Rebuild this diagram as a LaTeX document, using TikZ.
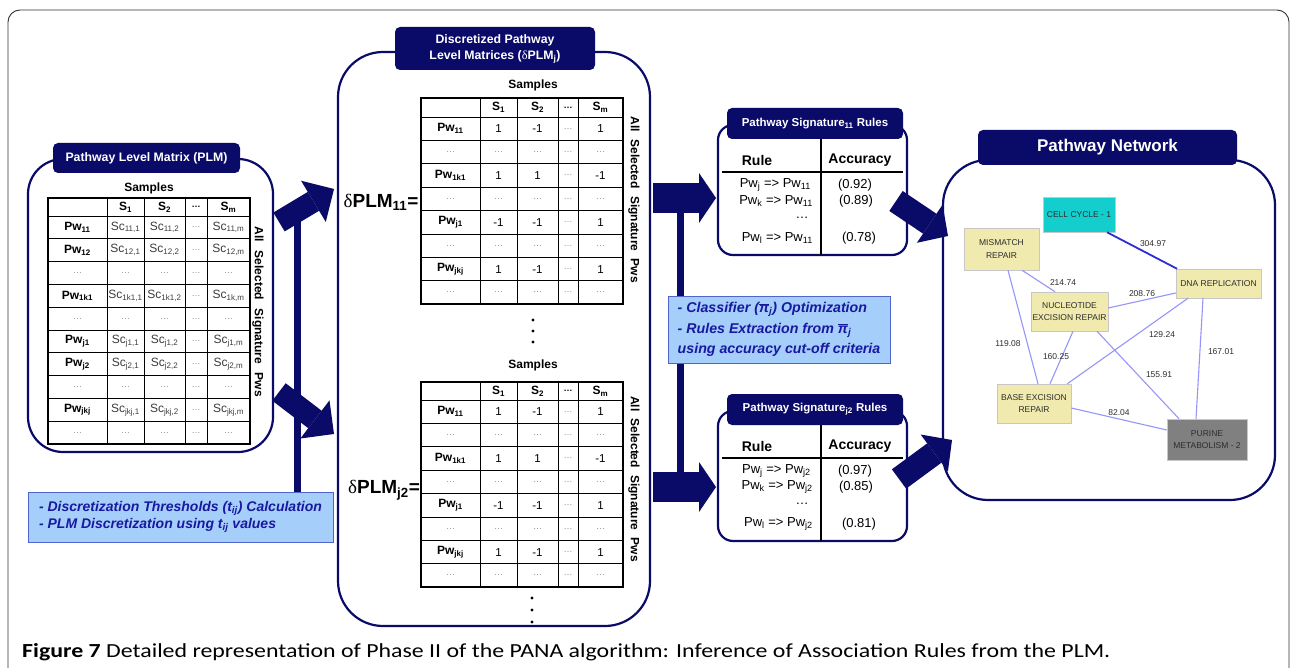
\documentclass[tikz,border=0pt]{standalone}
\usepackage{fontspec}
\setmainfont{Liberation Sans}
\newfontfamily\deltafont{Liberation Serif}
\newfontfamily\capfont{Carlito}
\usetikzlibrary{arrows.meta}
\definecolor{navy}{RGB}{10,10,105}
\definecolor{lightbox}{RGB}{165,206,250}
\definecolor{boxedge}{RGB}{80,100,205}
\definecolor{boxtext}{RGB}{25,25,160}
\definecolor{celltxt}{RGB}{60,60,60}
\definecolor{dotgray}{RGB}{140,140,140}
\definecolor{beige}{RGB}{240,234,174}
\definecolor{cyanbox}{RGB}{20,205,205}
\definecolor{graybox}{RGB}{128,128,128}
\definecolor{edgeblue}{RGB}{150,150,250}
\definecolor{strongblue}{RGB}{45,45,215}
\definecolor{netlabel}{RGB}{45,45,45}
\definecolor{framegray}{RGB}{50,50,50}
\newcommand\fs[1]{\fontsize{#1}{#1}\selectfont}
\newcommand\sbs[1]{\textsubscript{#1}}
\newcommand\dg{{\color{dotgray}\fs{9}\mdseries\ldots}}
\newcommand\pibar{$\overline{\mbox{π}}$}

\tikzset{
  panel/.style={draw=navy, line width=2.2pt, inner sep=0pt},
  tabbox/.style={fill=navy, rounded corners=5pt, text=white, inner sep=0pt, align=center},
  gridl/.style={line width=0.8pt, black},
  tframe/.style={line width=2.4pt, black},
  hdr/.style={font=\bfseries\fs{12}, inner sep=0pt},
  lab/.style={font=\bfseries\fs{12}, inner sep=0pt},
  cell/.style={font=\fs{12}, text=celltxt, inner sep=0pt},
  num/.style={font=\fs{11.5}, inner sep=0pt},
  samp/.style={font=\bfseries\fs{12}, inner sep=0pt},
  vtext/.style={font=\bfseries\fs{12}, inner sep=0pt, rotate=-90},
  dlab/.style={font=\bfseries\fs{19}, inner sep=0pt},
  bluebox/.style={fill=lightbox, draw=boxedge, line width=0.9pt, text=boxtext, align=left, inner sep=0pt},
  bigarrow/.style n args={3}{draw=navy, line width=#1, -{Triangle[length=#2, width=#3, line width=0pt]}},
  navybar/.style={draw=navy, line width=7pt},
  rtxt/.style={font=\fs{13}, inner sep=0pt},
  rhdr/.style={font=\bfseries\fs{14}, inner sep=0pt},
  netnode/.style={draw=black!22, line width=0.5pt, font=\fontsize{8.5}{12.5}\selectfont, text=netlabel, align=center, inner sep=0pt},
  nedge/.style={draw=edgeblue, line width=1.1pt},
  elab/.style={font=\fs{8.5}, text=netlabel, inner sep=0pt},
}

\newcommand\plmrow[5]{%
  \pgfmathsetmacro\yy{216+22.8*(#1-0.5)}%
  \node[lab]  (plm#1l) at (77.5,\yy) {#2};
  \node[cell] (plm#1a) at (125.5,\yy) {#3};
  \node[cell] (plm#1b) at (164.5,\yy) {#4};
  \node[cell] (plm#1c) at (196,\yy) {\dg};
  \node[cell] (plm#1d) at (228.5,\yy) {#5};}

\newcommand\dmrow[7]{%
  \pgfmathsetmacro\yy{#2+23.4*(#3-0.5)}%
  \node[lab] (#1#3l) at (450.5,\yy) {#4};
  \node[num] (#1#3a) at (498.5,\yy) {#5};
  \node[num] (#1#3b) at (537.5,\yy) {#6};
  \node[num] (#1#3c) at (568,\yy) {\dg};
  \node[num] (#1#3d) at (600.5,\yy) {#7};}

\newcommand\dmatrix[3]{%
  \foreach \x in {480,517,558,578} \draw[gridl] (\x,#2) -- (\x,{#3+187.2});
  \foreach \i in {0,...,7} \draw[gridl] (421,{#3+23.4*\i}) -- (623,{#3+23.4*\i});
  \draw[tframe] (421,#2) rectangle (623,{#3+187.2});
  \pgfmathsetmacro\yh{(#2+#3)/2}%
  \node[hdr] (#1h1) at (498.5,\yh) {S\sbs{1}};
  \node[hdr] (#1h2) at (537.5,\yh) {S\sbs{2}};
  \node[hdr] (#1h3) at (568,\yh) {\fs{9}\ldots};
  \node[hdr] (#1hm) at (600.5,\yh) {S\sbs{m}};
  \dmrow{#1}{#3}{1}{Pw\sbs{11}}{1}{-1}{1}
  \dmrow{#1}{#3}{2}{\dg}{\dg}{\dg}{\dg}
  \dmrow{#1}{#3}{3}{Pw\sbs{1k1}}{1}{1}{-1}
  \dmrow{#1}{#3}{4}{\dg}{\dg}{\dg}{\dg}
  \dmrow{#1}{#3}{5}{Pw\sbs{j1}}{-1}{-1}{1}
  \dmrow{#1}{#3}{6}{\dg}{\dg}{\dg}{\dg}
  \dmrow{#1}{#3}{7}{Pw\sbs{jkj}}{1}{-1}{1}
  \dmrow{#1}{#3}{8}{\dg}{\dg}{\dg}{\dg}}

\newcommand\rulebox[6]{%
  \node[panel, rounded corners=15pt, minimum width=189pt, minimum height=130pt] (#1panel) at (812.5,{190+#2}) {};
  \draw[line width=1.2pt] (821,{139+#2}) -- (821,{255+#2});
  \draw[line width=1.2pt] (722,{172+#2}) -- (903,{172+#2});
  \node[tabbox, font=\bfseries\fs{11.5}, minimum width=176pt, minimum height=31pt] (#1tab) at (815,{123.5+#2}) {Pathway Signature\sbs{#3} Rules};
  \node[rhdr] (#1hr) at (757,{160+#2}) {Rule};
  \node[rhdr] (#1ha) at (860,{160+#2}) {Accuracy};
  \node[rtxt, anchor=east] (#1r1) at (811,{185+#2}) {Pw\sbs{j} => Pw\sbs{#3}};
  \node[rtxt, anchor=east] (#1r2) at (813,{201+#2}) {Pw\sbs{k} => Pw\sbs{#3}};
  \node[rtxt] (#1rd) at (802,{218+#2}) {\ldots};
  \node[rtxt, anchor=east] (#1r3) at (813,{238+#2}) {Pw\sbs{l} => Pw\sbs{#3}};
  \node[rtxt] (#1a1) at (855,{185+#2}) {(#4)};
  \node[rtxt] (#1a2) at (856,{201+#2}) {(#5)};
  \node[rtxt] (#1a3) at (859,{238+#2}) {(#6)};}

\begin{document}
\begin{tikzpicture}[x=1pt,y=-1pt]
\useasboundingbox (0,0) rectangle (1292,668);
\fill[white] (0,0) rectangle (1292,668);
% outer frame
\draw[framegray, line width=0.9pt, rounded corners=12pt] (8,10) rectangle (1289,720);

% ---------- PLM panel ----------
\node[panel, rounded corners=35pt, minimum width=245pt, minimum height=293pt] (plmpanel) at (150.5,305.5) {};
\node[tabbox, font=\bfseries\fs{12.3}, minimum width=187pt, minimum height=30pt] (plmtab) at (146.5,158) {Pathway Level Matrix (PLM)};
\node[samp] (plmsamp) at (149,188) {Samples};
\foreach \x in {107,144,185,207} \draw[gridl] (\x,198) -- (\x,444);
\draw[gridl] (48,216) -- (250,216);
\foreach \i in {1,...,9} \draw[gridl] (48,{216+22.8*\i}) -- (250,{216+22.8*\i});
\draw[tframe] (48,198) rectangle (250,444);
\node[hdr] (plmh1) at (125.5,207) {S\sbs{1}};
\node[hdr] (plmh2) at (164.5,207) {S\sbs{2}};
\node[hdr] (plmh3) at (196,207) {\fs{9}\ldots};
\node[hdr] (plmhm) at (228.5,207) {S\sbs{m}};
\plmrow{1}{Pw\sbs{11}}{Sc\sbs{11,1}}{Sc\sbs{11,2}}{Sc\sbs{11,m}}
\plmrow{2}{Pw\sbs{12}}{Sc\sbs{12,1}}{Sc\sbs{12,2}}{Sc\sbs{12,m}}
\plmrow{3}{\dg}{\dg}{\dg}{\dg}
\plmrow{4}{Pw\sbs{1k1}}{Sc\sbs{1k1,1}}{Sc\sbs{1k1,2}}{Sc\sbs{1k,m}}
\plmrow{5}{\dg}{\dg}{\dg}{\dg}
\plmrow{6}{Pw\sbs{j1}}{Sc\sbs{j1,1}}{Sc\sbs{j1,2}}{Sc\sbs{j1,m}}
\plmrow{7}{Pw\sbs{j2}}{Sc\sbs{j2,1}}{Sc\sbs{j2,2}}{Sc\sbs{j2,m}}
\plmrow{8}{\dg}{\dg}{\dg}{\dg}
\plmrow{9}{Pw\sbs{jkj}}{Sc\sbs{jkj,1}}{Sc\sbs{jkj,2}}{Sc\sbs{jkj,m}}
\plmrow{10}{\dg}{\dg}{\dg}{\dg}
\node[vtext] (plmv) at (258,312) {\makebox[170pt][s]{All Selected Signature Pws}};

% ---------- middle panel ----------
\node[panel, rounded corners=45pt, minimum width=312pt, minimum height=574pt] (midpanel) at (494,339) {};
\node[tabbox, font=\bfseries\fontsize{12.3}{16}\selectfont, minimum width=200pt, minimum height=43pt] (midtab) at (495,48.5) {Discretized Pathway\\Level Matrices ({\deltafont\mdseries δ}PLM\sbs{j})};
\node[samp] (dmAsamp) at (533,85) {Samples};
\dmatrix{dmA}{98}{117}
\node[vtext] (dmAv) at (634,200) {\makebox[166pt][s]{All Selected Signature Pws}};
\node[dlab] (dlA) at (381,202) {{\deltafont\mdseries δ}PLM\sbs{11}=};
\fill (533,320) circle (1.6) (533,331) circle (1.6) (533,342) circle (1.6);
\node[samp] (dmBsamp) at (533,365) {Samples};
\dmatrix{dmB}{382}{400}
\node[vtext] (dmBv) at (634,479) {\makebox[166pt][s]{All Selected Signature Pws}};
\node[dlab] (dlB) at (384,490) {{\deltafont\mdseries δ}PLM\sbs{j2}=};
\fill (532,598) circle (1.6) (532,610) circle (1.6) (532,622) circle (1.6);

% ---------- left connector ----------
\coordinate (lbtop) at (297,215);
\coordinate (lbbot) at (297,495);
\draw[navybar] (lbtop) -- (lbbot);
\coordinate (la1t) at (279,222); \coordinate (la1h) at (334,189);
\coordinate (la2t) at (279,392); \coordinate (la2h) at (334,434);
\draw[bigarrow={22pt}{24pt}{48pt}] (la1t) -- (la1h);
\draw[bigarrow={22pt}{24pt}{48pt}] (la2t) -- (la2h);
\node[bluebox, font=\bfseries\itshape\fontsize{14}{17}\selectfont, minimum width=305pt, minimum height=50pt] (bb1) at (180.5,517)
  {- Discretization Thresholds (t\sbs{ij}) Calculation\\- PLM Discretization using t\sbs{ij} values};

% ---------- rules boxes ----------
\rulebox{ra}{0}{11}{0.92}{0.89}{0.78}
\rulebox{rb}{286}{j2}{0.97}{0.85}{0.81}

% ---------- middle connector ----------
\coordinate (mbtop) at (680,198);
\coordinate (mbbot) at (680,487);
\draw[navybar] (mbtop) -- (mbbot);
\coordinate (ma1t) at (653,198); \coordinate (ma1h) at (716,198);
\coordinate (ma2t) at (653,487); \coordinate (ma2h) at (716,487);
\draw[bigarrow={30pt}{17pt}{50pt}] (ma1t) -- (ma1h);
\draw[bigarrow={30pt}{17pt}{50pt}] (ma2t) -- (ma2h);
\node[bluebox, font=\bfseries\itshape\fontsize{14.2}{20.5}\selectfont, minimum width=222pt, minimum height=67pt] (bb2) at (779,329.5)
  {- Classifier (\pibar\sbs{j}) Optimization\\- Rules Extraction from \pibar\sbs{j}\\using accuracy cut-off criteria};

% ---------- network ----------
\node[panel, rounded corners=45pt, minimum width=332pt, minimum height=340pt] (netpanel) at (1109,330) {};
\node[tabbox, font=\bfseries\fs{17}, minimum width=259pt, minimum height=35pt] (nettab) at (1107.5,147.5) {Pathway Network};

\coordinate (na1t) at (896,201); \coordinate (na1h) at (948,236);
\coordinate (na2t) at (899,479); \coordinate (na2h) at (952,440);
\draw[bigarrow={24pt}{22pt}{46pt}] (na1t) -- (na1h);
\draw[bigarrow={24pt}{22pt}{46pt}] (na2t) -- (na2h);

\node[netnode, fill=cyanbox, minimum width=72pt, minimum height=35pt] (cc) at (1079,214.5) {CELL CYCLE - 1};
\node[netnode, fill=beige, minimum width=75pt, minimum height=42pt] (mm) at (1001.5,249) {MISMATCH\\REPAIR};
\node[netnode, fill=beige, minimum width=85pt, minimum height=29pt] (dna) at (1218.5,283.5) {DNA REPLICATION};
\node[netnode, fill=beige, minimum width=77pt, minimum height=39pt] (ner) at (1069.5,311.5) {NUCLEOTIDE\\EXCISION REPAIR};
\node[netnode, fill=beige, minimum width=74pt, minimum height=39pt] (ber) at (1034,403.5) {BASE EXCISION\\REPAIR};
\node[netnode, fill=graybox, minimum width=80pt, minimum height=41pt] (pur) at (1207,439.5) {PURINE\\METABOLISM - 2};

\draw[nedge, draw=strongblue, line width=1.8pt] ([xshift=28pt]cc.south) -- ([xshift=-41.5pt]dna.north);
\draw[nedge] ([xshift=20.5pt]mm.south) -- ([xshift=-14.5pt]ner.north);
\draw[nedge] ([yshift=3.5pt]ner.east) -- ([yshift=-9.5pt]dna.west);
\draw[nedge] ([xshift=6.5pt]mm.south) -- ([xshift=4pt]ber.north);
\draw[nedge] ([xshift=3.5pt]ner.south) -- ([xshift=16pt]ber.north);
\draw[nedge] ([xshift=-30.5pt]dna.south) -- ([xshift=-4pt]ber.north east);
\draw[nedge] ([xshift=27.5pt]ner.south) -- ([xshift=-28pt]pur.north);
\draw[nedge] ([xshift=-15.5pt]dna.south) -- ([xshift=-11pt]pur.north);
\draw[nedge] ([yshift=-4.5pt]ber.east) -- ([yshift=9.5pt]pur.west);

\node[elab] (l1) at (1153,244) {304.97};
\node[elab] (l2) at (1063,283) {214.74};
\node[elab] (l3) at (1142,294) {208.76};
\node[elab] (l4) at (1008,344) {119.08};
\node[elab] (l5) at (1056,357) {160.25};
\node[elab] (l6) at (1162,335) {129.24};
\node[elab] (l7) at (1159,375) {155.91};
\node[elab] (l8) at (1221,352) {167.01};
\node[elab] (l9) at (1119,413) {82.04};

% ---------- caption ----------
\node[anchor=base west, inner sep=0pt] (caption) at (22,657) {\resizebox{1088pt}{14pt}{\capfont\fs{21}\textbf{Figure 7} Detailed representation of Phase II of the PANA algorithm: Inference of Association Rules from the PLM.}};
\end{tikzpicture}
\end{document}
